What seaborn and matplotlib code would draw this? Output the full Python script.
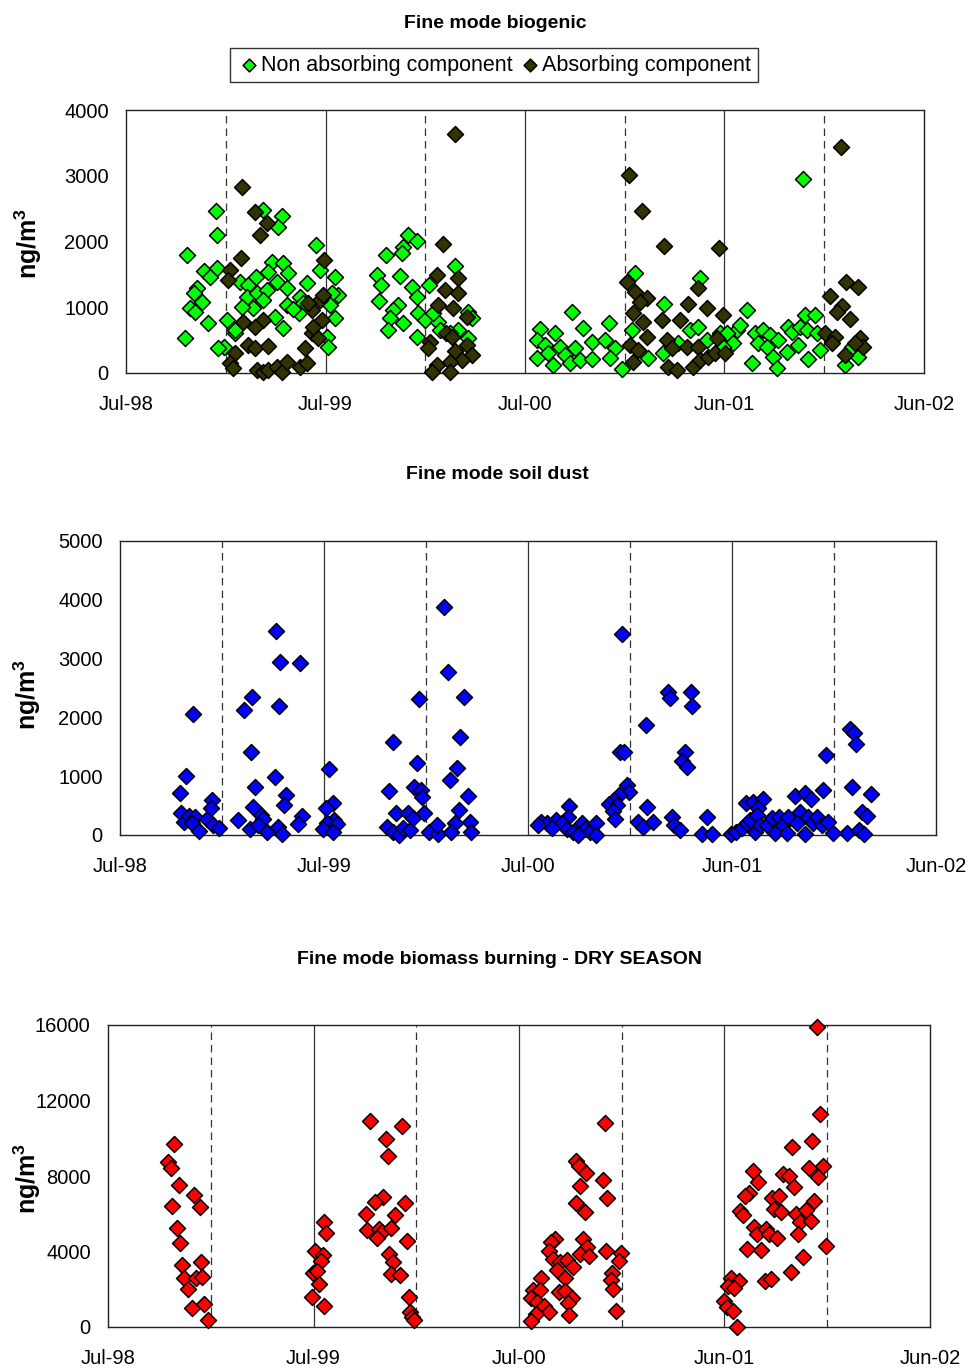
import numpy as np
import pandas as pd
import matplotlib
matplotlib.use('Agg')
import matplotlib.pyplot as plt
import seaborn as sns

# -------------------------
# Data (x = years after Jul-98 on the chart's date axis, y = ng/m3)
# -------------------------
x_labels = ['Jul-98', 'Jul-99', 'Jul-00', 'Jun-01', 'Jun-02']

bio_non_x = [0.450, 0.458, 0.304, 0.391, 0.454, 0.421, 0.358, 0.341, 0.379, 0.321, 0.346, 0.413, 0.297,
             0.505, 0.546, 0.491, 0.463, 0.688, 0.780, 0.764, 0.571, 0.613, 0.652, 0.730, 0.788, 0.814,
             0.713, 0.755, 0.805, 0.605, 0.655, 0.705, 0.688, 0.638, 0.580, 0.805, 0.747, 0.788, 0.546,
             0.906, 0.952, 0.972, 1.048, 1.065, 1.031, 0.872, 0.889, 1.023, 1.048, 0.869, 1.006, 1.014,
             0.839,
             1.415, 1.457, 1.390, 1.382, 1.303, 1.649, 1.257, 1.373, 1.277, 1.432, 1.457, 1.270, 1.520,
             1.365, 1.340, 1.323, 1.390, 1.465, 1.499, 1.315, 1.457, 1.566, 1.716, 1.733, 1.574, 1.666,
             1.716, 1.624, 1.540,
             2.237, 2.292, 2.423, 2.075, 2.150, 2.059, 2.100, 2.175, 2.251, 2.334, 2.401, 2.451, 2.059,
             2.117, 2.142, 2.201, 2.226, 2.276, 2.334, 2.426, 2.485, 2.551, 2.697, 2.877, 2.535, 2.618,
             2.827, 2.869, 2.977, 3.011, 3.061, 2.911, 2.693, 2.768,
             3.395, 3.111, 3.404, 3.454, 3.078, 3.011, 3.044, 3.153, 3.195, 3.228, 3.170, 3.212, 3.270,
             3.320, 3.337, 3.378, 3.412, 3.312, 3.370, 3.420, 3.462, 3.479, 3.245, 3.136, 3.262, 3.604,
             3.637, 3.671, 2.994]
bio_non_y = [2470, 2100, 1795, 1555, 1590, 1465, 1290, 1210, 1085, 985, 930, 755, 530,
             805, 605, 400, 375, 2480, 2390, 2215, 1390, 1340, 1465, 1695, 1670, 1515,
             1540, 1390, 1290, 1160, 1210, 1260, 1110, 985, 1010, 1035, 855, 680, 655,
             1365, 1945, 1565, 1465, 1185, 1210, 1160, 1060, 1035, 830, 910, 550, 400,
             970,
             2100, 2010, 1920, 1820, 1795, 1630, 1490, 1475, 1340, 1315, 1160, 1100, 1340,
             1035, 960, 830, 765, 910, 805, 655, 550, 780, 930, 830, 655, 655,
             530, 605, 910,
             930, 690, 755, 665, 605, 500, 425, 400, 375, 475, 500, 375, 225,
             300, 120, 275, 150, 200, 210, 225, 55, 1515, 1050, 1440, 655, 225,
             655, 705, 605, 450, 655, 500, 300, 450,
             2950, 960, 880, 880, 730, 605, 450, 605, 655, 580, 450, 400, 500,
             705, 630, 705, 655, 325, 425, 210, 605, 350, 250, 150, 70, 120,
             400, 250, 400]

bio_abs_x = [0.583, 0.647, 0.705, 0.672, 0.575, 0.521, 0.513, 0.992, 0.972, 0.931, 0.914, 0.588, 0.688,
             0.647, 0.546, 0.521, 0.538, 0.613, 0.647, 0.713, 0.655, 0.688, 0.713, 0.755, 0.780, 0.805,
             0.872, 0.906, 0.897, 0.931, 0.964, 0.939, 0.981, 0.989,
             1.649, 1.587, 1.560, 1.666, 1.599, 1.666, 1.566, 1.641, 1.708, 1.603, 1.524, 1.515, 1.633,
             1.649, 1.708, 1.733, 1.683, 1.624, 1.557, 1.532, 1.624,
             2.521, 2.585, 2.697, 2.974, 2.513, 2.869, 2.551, 2.610, 2.576, 2.819, 2.911, 2.543, 2.593,
             2.685, 2.777, 2.994, 2.610, 2.526, 2.568, 2.710, 2.735, 2.810, 2.869, 2.961, 2.543, 2.718,
             2.760, 2.844, 2.877, 2.919, 2.952, 3.003,
             3.582, 3.607, 3.668, 3.529, 3.590, 3.629, 3.562, 3.504, 3.554, 3.537, 3.679, 3.693, 3.654,
             3.604]
bio_abs_y = [2825, 2455, 2275, 2100, 1745, 1565, 1415, 1720, 1110, 960, 1060, 780, 805,
             705, 300, 150, 70, 425, 375, 410, 45, 20, 45, 95, 20, 170,
             95, 150, 375, 605, 530, 705, 805, 1185,
             3635, 1960, 1490, 1450, 1260, 1220, 1035, 985, 855, 605, 475, 375, 550,
             340, 425, 275, 200, 170, 120, 10, 10,
             3010, 2470, 1935, 1900, 1390, 1300, 1235, 1135, 1085, 1050, 985, 910, 780,
             805, 805, 880, 545, 425, 350, 500, 375, 400, 400, 530, 170, 95,
             45, 95, 200, 250, 300, 300,
             3440, 1390, 1315, 1175, 1020, 815, 930, 605, 550, 450, 530, 400, 450,
             275]

dust_x = [0.359, 0.322, 0.296, 0.299, 0.314, 0.338, 0.369, 0.351, 0.389, 0.425, 0.451, 0.446, 0.457, 0.487,
          0.577, 0.608, 0.649, 0.642, 0.662, 0.654, 0.690, 0.703, 0.637, 0.678, 0.719, 0.765, 0.784, 0.881,
          0.781, 0.760, 0.814, 0.802, 0.773, 0.793, 0.890, 0.874,
          1.025, 1.043, 1.010, 1.049, 1.013, 1.062, 0.993, 1.046,
          1.340, 1.320, 1.352, 1.307, 1.340, 1.369, 1.389, 1.413, 1.422, 1.438, 1.466, 1.454, 1.443, 1.474,
          1.479, 1.490, 1.515, 1.560, 1.552, 1.590, 1.606, 1.686, 1.667, 1.650, 1.618, 1.707, 1.662, 1.642,
          1.621, 1.716, 1.721,
          2.462, 2.451, 2.471, 2.487, 2.495, 2.448, 2.422, 2.399, 2.435, 2.418, 2.426, 2.201, 2.198, 2.062,
          2.095, 2.137, 2.165, 2.116, 2.190, 2.222, 2.263, 2.279, 2.304, 2.333, 2.333, 2.247, 2.050,
          2.577, 2.688, 2.696, 2.797, 2.802, 2.770, 2.753, 2.778, 2.582, 2.541, 2.565, 2.614, 2.704, 2.716,
          2.745, 2.879, 2.851, 2.900,
          2.994, 3.020, 3.047, 3.072, 3.088, 3.069, 3.101, 3.154, 3.129, 3.124, 3.113, 3.137, 3.170, 3.194,
          3.211, 3.232, 3.252, 3.276, 3.268, 3.309, 3.333, 3.317, 3.358, 3.386, 3.358, 3.374, 3.399, 3.418,
          3.440, 3.445, 3.461, 3.472, 3.494, 3.565, 3.578, 3.600, 3.606, 3.587, 3.681, 3.636, 3.660, 3.624,
          3.647]
dust_y = [2055, 1005, 715, 370, 225, 325, 300, 200, 70, 270, 595, 455, 170, 125,
          255, 2125, 2350, 1415, 820, 470, 340, 280, 100, 170, 55, 3475, 2935, 2920,
          2195, 980, 680, 510, 140, 15, 325, 185,
          1115, 540, 455, 255, 200, 180, 95, 55,
          1585, 755, 370, 140, 55, 0, 115, 370, 85, 285, 2310, 1230, 820, 765,
          650, 370, 55, 15, 170, 3870, 2775, 2350, 1660, 1145, 935, 665, 425, 200,
          55, 225, 55,
          3420, 1415, 1405, 850, 735, 680, 595, 525, 510, 410, 265, 495, 310, 225,
          210, 255, 200, 115, 95, 55, 210, 95, 55, 200, 0, 0, 170,
          1870, 2435, 2325, 2435, 2200, 1405, 1260, 1150, 480, 225, 140, 225, 310, 170,
          85, 310, 15, 15,
          15, 55, 115, 200, 255, 540, 565, 605, 455, 340, 55, 170, 170, 285,
          40, 310, 170, 300, 40, 665, 395, 200, 710, 605, 15, 300, 200, 310,
          170, 765, 1360, 225, 40, 40, 1795, 1740, 1540, 810, 690, 395, 325, 85,
          15]

burn_x = [0.321, 0.293, 0.305, 0.344, 0.420, 0.313, 0.446, 0.337, 0.350, 0.360, 0.451, 0.370, 0.430,
          0.459, 0.388, 0.409, 0.467, 0.485,
          1.053, 1.062, 1.007, 1.045, 1.035, 0.999, 1.015, 1.025, 0.993, 1.051,
          1.277, 1.432, 1.351, 1.363, 1.340, 1.298, 1.447, 1.255, 1.397, 1.260, 1.320, 1.332, 1.377,
          1.311, 1.455, 1.366, 1.389, 1.379, 1.421, 1.466, 1.468, 1.479, 1.489,
          2.417, 2.279, 2.294, 2.326, 2.410, 2.297, 2.430, 2.276, 2.320, 2.177, 2.154, 2.146, 2.310,
          2.332, 2.297, 2.339, 2.425, 2.495, 2.487, 2.164, 2.200, 2.235, 2.264, 2.183, 2.224, 2.109,
          2.454, 2.446, 2.457, 2.067, 2.102, 2.196, 2.224, 2.058, 2.256, 2.086, 2.120, 2.146, 2.240,
          2.081, 2.245, 2.470, 2.058,
          3.449, 3.465, 3.426, 3.330, 3.410, 3.478, 3.453, 3.139, 3.165, 3.286, 3.315, 3.338, 3.118,
          3.101, 3.230, 3.264, 3.434, 3.075, 3.092, 3.241, 3.275, 3.348, 3.395, 3.367, 3.420, 3.145,
          3.158, 3.202, 3.218, 3.257, 3.358, 3.496, 3.108, 3.178, 3.383, 3.322, 3.197, 3.226, 3.030,
          3.072, 3.019, 3.046, 2.999, 3.011, 3.043, 3.062]
burn_y = [9700, 8750, 8440, 7540, 6990, 6410, 6340, 5230, 4470, 3270, 3440, 2580, 2610,
          2630, 2030, 1020, 1220, 350,
          5580, 4960, 4040, 3810, 3500, 2880, 2970, 2300, 1610, 1110,
          10910, 10670, 9960, 9040, 6900, 6600, 6570, 6000, 5930, 5140, 5180, 5020, 5260,
          4700, 4570, 3870, 3460, 2830, 2750, 1590, 810, 550, 350,
          10790, 8790, 8550, 8140, 7810, 7490, 6850, 6590, 6090, 4660, 4520, 4030, 4650,
          4250, 3850, 3780, 4030, 3940, 3500, 3590, 3430, 3550, 3160, 3020, 2580, 2600,
          2880, 2490, 2010, 1960, 1960, 1870, 1910, 1550, 1550, 1340, 1110, 810, 1260,
          690, 640, 850, 320,
          15880, 11280, 9850, 9520, 8440, 8530, 7950, 8260, 7680, 8090, 8020, 7400, 7080,
          6940, 6850, 6940, 6690, 6160, 5930, 6230, 6080, 5970, 6200, 5580, 5620, 5280,
          4910, 5180, 4940, 4700, 4910, 4310, 4130, 4060, 3720, 2930, 2450, 2540, 2580,
          2450, 2170, 2050, 1390, 1040, 860, 0]

# -------------------------
# Style
# -------------------------
sns.set_style('white')
plt.rcParams['font.family'] = ['Liberation Sans', 'DejaVu Sans']
plt.rcParams['mathtext.fontset'] = 'custom'
plt.rcParams['mathtext.rm'] = 'Liberation Sans'
plt.rcParams['mathtext.bf'] = 'Liberation Sans:bold'
for key in ('text.color', 'axes.labelcolor', 'xtick.color', 'ytick.color'):
    plt.rcParams[key] = 'black'

W, H = 970, 1368
fig = plt.figure(figsize=(W / 100, H / 100), dpi=100)


def px_axes(left, top, right, bottom):
    return fig.add_axes([left / W, 1 - bottom / H, (right - left) / W, (bottom - top) / H])


def style_axes(ax, ymax, ystep, label_xy):
    ax.set_xlim(0, 4)
    ax.set_ylim(0, ymax)
    ax.set_xticks(range(5))
    ax.set_xticklabels(x_labels)
    ax.set_yticks(np.arange(0, ymax + 1, ystep))
    for v in (1, 2, 3):
        ax.axvline(v, color='#333333', lw=0.9, zorder=0)
    for v in (0.5, 1.5, 2.5, 3.5):
        ax.axvline(v, color='#333333', lw=0.9, ls=(0, (6, 4)), zorder=0)
    for s in ax.spines.values():
        s.set_visible(True)
        s.set_color('#222222')
        s.set_linewidth(1.0)
    ax.tick_params(axis='both', direction='out', length=5, width=1, labelsize=14.5, color='#222222')
    ax.tick_params(axis='x', pad=11)
    ax.tick_params(axis='y', pad=7.5)
    ax.set_xlabel('')
    ax.set_ylabel('')
    fig.text(label_xy[0] / W, 1 - label_xy[1] / H, r'$\mathbf{ng/m^3}$', rotation=90,
             ha='center', va='center', fontsize=18)


mk = dict(marker='D', s=66, edgecolor='black', linewidth=1.1, clip_on=False)

# Top: biogenic
ax1 = px_axes(126, 110, 924, 373)
sns.scatterplot(x=bio_non_x, y=bio_non_y, color='#00ff00', label='Non absorbing component',
                ax=ax1, zorder=3, **mk)
sns.scatterplot(x=bio_abs_x, y=bio_abs_y, color='#333300', label='Absorbing component',
                ax=ax1, zorder=4, **mk)
style_axes(ax1, 4000, 1000, (28, 243))
handles, labels = ax1.get_legend_handles_labels()
ax1.get_legend().remove()
fig.legend(handles, labels, loc='center', bbox_to_anchor=(494 / W, 1 - 65 / H), ncol=2,
           frameon=True, fancybox=False, edgecolor='black', fontsize=15.5, markerscale=0.8,
           handletextpad=0.0, columnspacing=0.3, handlelength=1.1, borderpad=0.3,
           borderaxespad=0)
fig.text(495 / W, 1 - 23 / H, 'Fine mode biogenic', ha='center', va='center',
         fontsize=14, fontweight='bold')

# Middle: soil dust
ax2 = px_axes(120, 541, 936, 835)
sns.scatterplot(x=dust_x, y=dust_y, color='#0000ff', ax=ax2, zorder=3, **mk)
style_axes(ax2, 5000, 1000, (27, 694))
fig.text(497 / W, 1 - 474 / H, 'Fine mode soil dust', ha='center', va='center',
         fontsize=14, fontweight='bold')

# Bottom: biomass burning
ax3 = px_axes(108, 1025, 930, 1327)
sns.scatterplot(x=burn_x, y=burn_y, color='#ff0000', ax=ax3, zorder=3, **mk)
style_axes(ax3, 16000, 4000, (27, 1178))
fig.text(500 / W, 1 - 960 / H, 'Fine mode biomass burning - DRY SEASON', ha='center', va='center',
         fontsize=14, fontweight='bold')

fig.savefig('out.png', dpi=100)
